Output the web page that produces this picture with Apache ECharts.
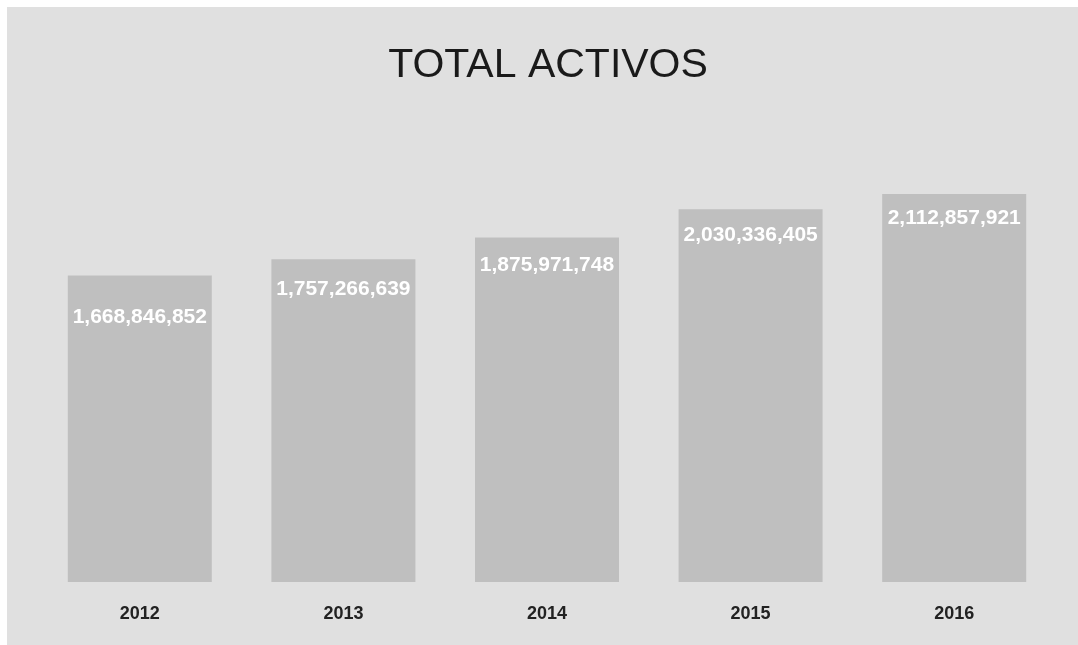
<!DOCTYPE html>
<html>
<head>
<meta charset="utf-8">
<script src="https://cdn.jsdelivr.net/npm/echarts@6/dist/echarts.min.js"></script>
<style>
  html, body { margin: 0; padding: 0; background: #ffffff; }
  #chart { position: absolute; left: 7px; top: 7px; width: 1071px; height: 638px; }
</style>
</head>
<body>
<div id="chart"></div>
<script>
// Total assets by year
const years = ['2012', '2013', '2014', '2015', '2016'];
const totalActivos = [1668846852, 1757266639, 1875971748, 2030336405, 2112857921];

// vertical drop of each value label below its bar top (px)
const labelDrop = [31, 19, 17, 15, 14];

const fmt = v => v.toString().replace(/\B(?=(\d{3})+(?!\d))/g, ',');

const chart = echarts.init(document.getElementById('chart'));
chart.setOption({
  backgroundColor: '#e0e0e0',
  animation: false,
  title: {
    text: 'TOTAL ACTIVOS',
    left: 536,
    top: 33,
    textAlign: 'center',
    textStyle: {
      fontFamily: 'Liberation Sans, Arial, sans-serif',
      fontSize: 41,
      fontWeight: 'normal',
      color: '#1a1a1a'
    }
  },
  grid: { left: 31, right: 22, top: 116, bottom: 63 },
  xAxis: {
    type: 'category',
    data: years,
    axisLine: { show: false },
    axisTick: { show: false },
    axisLabel: {
      margin: 23,
      fontFamily: 'Liberation Sans, Arial, sans-serif',
      fontSize: 18,
      fontWeight: 'bold',
      color: '#222222'
    }
  },
  yAxis: {
    type: 'value',
    min: 0,
    max: 2500000000,
    show: false,
    splitLine: { show: false }
  },
  series: [{
    type: 'bar',
    barWidth: 144,
    itemStyle: { color: '#bfbfbf' },
    data: totalActivos.map((v, i) => ({
      value: v,
      label: { offset: [0, labelDrop[i]] }
    })),
    label: {
      show: true,
      position: 'insideTop',
      distance: 0,
      formatter: p => fmt(p.value),
      fontFamily: 'Liberation Sans, Arial, sans-serif',
      fontSize: 21,
      fontWeight: 'bold',
      color: '#ffffff'
    }
  }]
});
</script>
</body>
</html>
